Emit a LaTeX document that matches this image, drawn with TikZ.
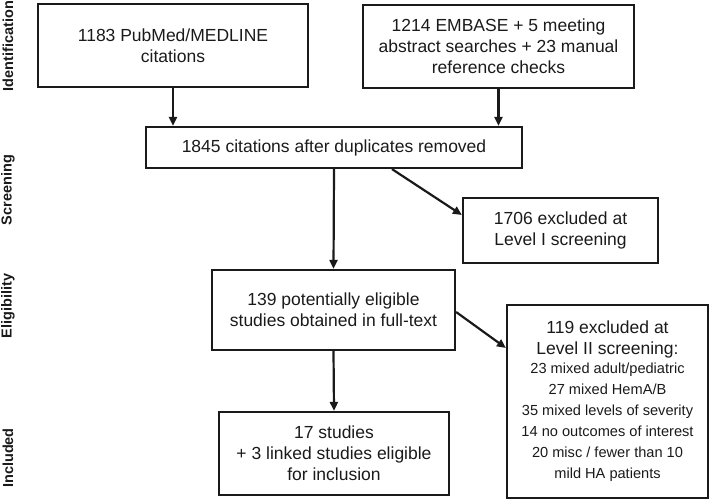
\documentclass[tikz,border=0pt]{standalone}
\usepackage{fontspec}
\setmainfont{Liberation Sans}
\usetikzlibrary{arrows.meta}
\definecolor{ink}{HTML}{1A1A1A}
\begin{document}
\begin{tikzpicture}[x=1pt,y=-1pt,
  box/.style={draw=ink, line width=2.2pt, text=ink, align=center, inner sep=0pt,
    font=\fontsize{17.5}{21}\selectfont},
  stage/.style={rotate=90, text=ink, inner sep=0pt, font=\fontsize{14.5}{17}\selectfont\bfseries},
  conn/.style={draw=ink, line width=2.2pt, -{Triangle[length=9pt,width=8pt]}}]
\useasboundingbox (0,0) rectangle (709,500);
\node[stage] (l1) at (8,46) {Identification};
\node[stage] (l2) at (8,190) {Screening};
\node[stage] (l3) at (8,306) {Eligibility};
\node[stage] (l4) at (8,458) {Included};

\node[box, minimum width=270pt, minimum height=83pt] (b1) at (173,45.5) {1183 PubMed/MEDLINE\\citations};
\node[box, minimum width=271pt, minimum height=83pt] (b2) at (498.5,46.5) {1214 EMBASE + 5 meeting\\abstract searches + 23 manual\\reference checks};
\node[box, minimum width=376pt, minimum height=41pt] (b3) at (334,147.5) {1845 citations after duplicates removed};
\node[box, minimum width=195pt, minimum height=65pt] (b4) at (560.5,230.5) {1706 excluded at\\Level I screening};
\node[box, minimum width=243pt, minimum height=80pt] (b5) at (333.5,310) {139 potentially eligible\\studies obtained in full-text};
\node[box, minimum width=201pt, minimum height=193pt] (b6) at (607.5,401.5) {119 excluded at\\Level II screening:\\[-2pt]
  {\fontsize{14.6}{17.5}\selectfont 23 mixed adult/pediatric}\\
  {\fontsize{14.6}{17.5}\selectfont 27 mixed HemA/B}\\
  {\fontsize{14.6}{17.5}\selectfont 35 mixed levels of severity}\\
  {\fontsize{14.6}{17.5}\selectfont 14 no outcomes of interest}\\
  {\fontsize{14.6}{17.5}\selectfont 20 misc / fewer than 10}\\
  {\fontsize{14.6}{17.5}\selectfont mild HA patients}};
\node[box, minimum width=230pt, minimum height=83pt] (b7) at (334,453.5) {17 studies\\+ 3 linked studies eligible\\for inclusion};

\draw[conn] (b1.south) -- (b1.south |- b3.north);
\draw[conn] (b2.south) -- (b2.south |- b3.north);
\draw[conn] (b3.south) -- (b5.north);
\draw[conn] ([xshift=58pt]b3.south) -- ([yshift=15.5pt]b4.west);
\draw[conn] ([yshift=-2pt]b5.east) -- ([yshift=53.5pt]b6.west);
\draw[conn] (b5.south) -- (b7.north);
\end{tikzpicture}
\end{document}
